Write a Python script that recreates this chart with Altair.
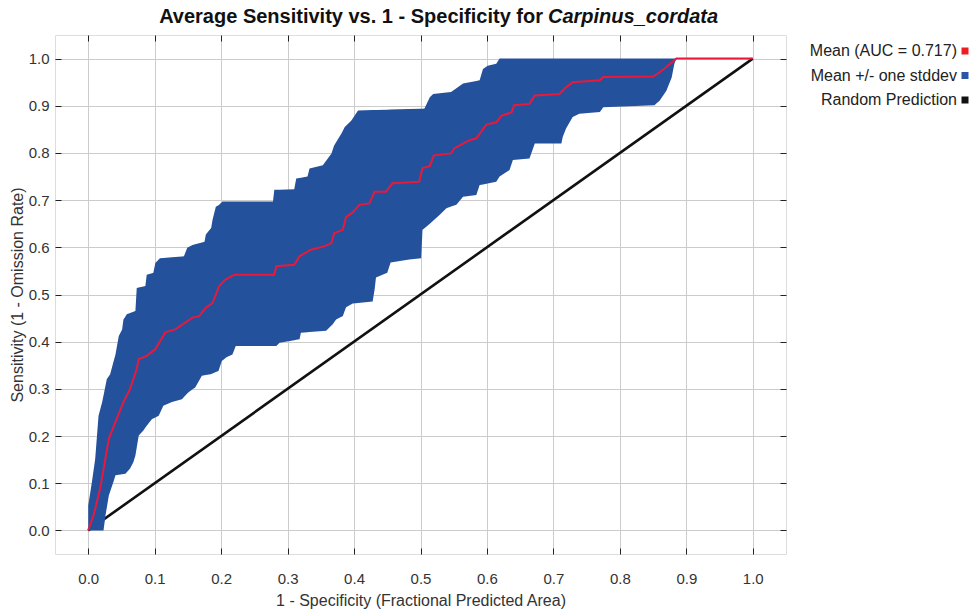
import altair as alt
import pandas as pd
import numpy as np

TITLE_MAIN = "Average Sensitivity vs. 1 - Specificity for"
TITLE_SPECIES = "Carpinus_cordata"
X_TITLE = "1 - Specificity (Fractional Predicted Area)"
Y_TITLE = "Sensitivity (1 - Omission Rate)"

series_names = ["Mean (AUC = 0.717)", "Mean +/- one stddev", "Random Prediction"]
series_colors = ["#ee1c25", "#2a54a4", "#111111"]

tick_values = [0.0, 0.1, 0.2, 0.3, 0.4, 0.5, 0.6, 0.7, 0.8, 0.9, 1.0]

mean_x = [0.0, 0.008, 0.018, 0.031, 0.041, 0.053, 0.063, 0.073, 0.076, 0.088,
          0.101, 0.116, 0.131, 0.157, 0.167, 0.177, 0.187, 0.197, 0.207, 0.220,
          0.280, 0.283, 0.310, 0.318, 0.335, 0.355, 0.366, 0.370, 0.383, 0.388,
          0.398, 0.408, 0.423, 0.431, 0.448, 0.458, 0.498, 0.503, 0.514, 0.520,
          0.546, 0.551, 0.564, 0.574, 0.584, 0.599, 0.614, 0.622, 0.637, 0.641,
          0.664, 0.672, 0.709, 0.719, 0.729, 0.770, 0.775, 0.850, 0.860, 0.870,
          0.885, 1.0]
mean_y = [0.0, 0.032, 0.089, 0.194, 0.230, 0.272, 0.300, 0.342, 0.363, 0.370,
          0.384, 0.420, 0.426, 0.451, 0.454, 0.472, 0.482, 0.518, 0.532, 0.542,
          0.542, 0.560, 0.563, 0.581, 0.595, 0.602, 0.609, 0.630, 0.637, 0.664,
          0.674, 0.690, 0.693, 0.718, 0.718, 0.736, 0.739, 0.768, 0.772, 0.795,
          0.799, 0.810, 0.820, 0.827, 0.831, 0.860, 0.865, 0.879, 0.886, 0.901,
          0.904, 0.922, 0.925, 0.939, 0.950, 0.954, 0.961, 0.962, 0.971, 0.982,
          1.0, 1.0]

upper_x = [0.0, 0.0056, 0.0105, 0.0155, 0.021, 0.028, 0.033, 0.041, 0.046, 0.051,
           0.053, 0.058, 0.071, 0.073, 0.086, 0.088, 0.098, 0.101, 0.108, 0.144,
           0.149, 0.157, 0.175, 0.177, 0.185, 0.187, 0.192, 0.197, 0.202, 0.278,
           0.280, 0.310, 0.313, 0.330, 0.333, 0.353, 0.366, 0.370, 0.381, 0.386,
           0.396, 0.406, 0.506, 0.514, 0.519, 0.546, 0.564, 0.589, 0.594, 0.601,
           0.614, 0.619, 0.885]
upper_y = [0.053, 0.103, 0.152, 0.243, 0.272, 0.321, 0.331, 0.373, 0.412, 0.426,
           0.447, 0.458, 0.465, 0.514, 0.518, 0.542, 0.546, 0.567, 0.577, 0.581,
           0.599, 0.605, 0.612, 0.627, 0.641, 0.658, 0.686, 0.690, 0.697, 0.697,
           0.722, 0.723, 0.746, 0.750, 0.767, 0.774, 0.799, 0.816, 0.841, 0.855,
           0.869, 0.890, 0.894, 0.918, 0.925, 0.929, 0.947, 0.954, 0.978, 0.985,
           0.989, 1.0, 1.0]

lower_x = [0.0, 0.023, 0.026, 0.031, 0.038, 0.041, 0.056, 0.063, 0.068, 0.071,
           0.076, 0.083, 0.088, 0.096, 0.106, 0.113, 0.126, 0.141, 0.151, 0.161,
           0.171, 0.184, 0.196, 0.201, 0.208, 0.217, 0.222, 0.283, 0.288, 0.318,
           0.320, 0.358, 0.368, 0.373, 0.383, 0.388, 0.398, 0.428, 0.431, 0.433,
           0.450, 0.455, 0.483, 0.501, 0.503, 0.514, 0.529, 0.539, 0.554, 0.564,
           0.584, 0.589, 0.614, 0.619, 0.634, 0.639, 0.664, 0.672, 0.712, 0.714,
           0.719, 0.729, 0.739, 0.770, 0.775, 0.852, 0.860, 0.870, 0.878, 0.882,
           0.885]
lower_y = [0.0, 0.0, 0.032, 0.074, 0.103, 0.117, 0.120, 0.131, 0.145, 0.159,
           0.201, 0.212, 0.222, 0.236, 0.243, 0.264, 0.272, 0.278, 0.293, 0.303,
           0.328, 0.331, 0.338, 0.359, 0.367, 0.373, 0.391, 0.391, 0.398, 0.405,
           0.419, 0.423, 0.437, 0.447, 0.454, 0.473, 0.481, 0.485, 0.511, 0.536,
           0.546, 0.568, 0.574, 0.577, 0.637, 0.650, 0.669, 0.683, 0.690, 0.707,
           0.711, 0.732, 0.739, 0.750, 0.764, 0.785, 0.788, 0.820, 0.820, 0.834,
           0.852, 0.876, 0.883, 0.887, 0.897, 0.901, 0.911, 0.932, 0.960, 0.989,
           1.0]

random_x = [0.0, 1.0]
random_y = [0.0, 1.0]

FONT = "Liberation Sans"
LINE_RED = "#e8193c"
BAND_BLUE = "#24519c"
TEXT_GRAY = "#333333"

# tables
mean_df = pd.DataFrame({"x": mean_x, "y": mean_y})
band_grid = np.union1d(upper_x, lower_x)
band_df = pd.DataFrame({
    "x": band_grid,
    "lo": np.interp(band_grid, lower_x, lower_y),
    "hi": np.interp(band_grid, upper_x, upper_y),
})
rand_df = pd.DataFrame({"x": random_x, "y": random_y})
legend_df = pd.DataFrame({"series": series_names})

xscale = alt.Scale(domain=[-0.05, 1.05], nice=False, zero=False)
yscale = alt.Scale(domain=[-0.05, 1.05], nice=False, zero=False)

grid_axis = dict(values=tick_values, grid=True, gridColor="#cccccc", gridWidth=1,
                 labels=False, ticks=False, domain=False, title=None)

# grid + random prediction line
random_layer = alt.Chart(rand_df).mark_line(color="#111111", strokeWidth=2.6).encode(
    x=alt.X("x:Q", scale=xscale, axis=alt.Axis(orient="bottom", **grid_axis)),
    y=alt.Y("y:Q", scale=yscale, axis=alt.Axis(orient="left", **grid_axis)),
)

band_layer = alt.Chart(band_df).mark_area(color=BAND_BLUE, opacity=1).encode(
    x=alt.X("x:Q", scale=xscale, axis=None),
    y=alt.Y("lo:Q", scale=yscale, axis=None),
    y2="hi:Q",
)

mean_layer = alt.Chart(mean_df).mark_line(color=LINE_RED, strokeWidth=2).encode(
    x=alt.X("x:Q", scale=xscale, axis=None),
    y=alt.Y("y:Q", scale=yscale, axis=None),
)

# labelled axes (bottom / left) with inward ticks
lab_common = dict(values=tick_values, format=".1f", grid=False, domain=False,
                  ticks=True, tickSize=6, tickColor="#222222", tickWidth=1, offset=-6,
                  labelFont=FONT, labelFontSize=15, labelColor=TEXT_GRAY,
                  titleFont=FONT, titleFontSize=16, titleFontWeight="normal",
                  titleColor=TEXT_GRAY)
axes_layer = alt.Chart(rand_df).mark_line(opacity=0).encode(
    x=alt.X("x:Q", scale=xscale,
            axis=alt.Axis(orient="bottom", title=X_TITLE, labelPadding=17,
                          titlePadding=6, **lab_common)),
    y=alt.Y("y:Q", scale=yscale,
            axis=alt.Axis(orient="left", title=Y_TITLE, labelPadding=6,
                          titlePadding=3, **lab_common)),
)

tick_only = dict(values=tick_values, grid=False, domain=False, labels=False,
                 ticks=True, tickSize=6, tickColor="#222222", tickWidth=1,
                 offset=-6, title=None)
mirror_layer = alt.Chart(rand_df).mark_line(opacity=0).encode(
    x=alt.X("x:Q", scale=xscale, axis=alt.Axis(orient="top", **tick_only)),
    y=alt.Y("y:Q", scale=yscale, axis=alt.Axis(orient="right", **tick_only)),
)

legend_layer = alt.Chart(legend_df).mark_point(
    shape="square", filled=True, size=49, clip=True
).encode(
    x=alt.value(-200), y=alt.value(-200),
    color=alt.Color("series:N",
                    scale=alt.Scale(domain=series_names, range=series_colors),
                    legend=alt.Legend(title=None, orient="none", legendX=902, legendY=8,
                                      direction="vertical", symbolType="square",
                                      symbolSize=49, symbolStrokeWidth=0,
                                      symbolOpacity=1,
                                      labelFont=FONT, labelFontSize=16,
                                      labelColor="#222222", labelAlign="right",
                                      labelOffset=alt.ExprRef(expr="-16"),
                                      rowPadding=8.5, padding=0)),
)

title_df = pd.DataFrame({"main": [TITLE_MAIN], "species": [TITLE_SPECIES]})
title_main = alt.Chart(title_df).mark_text(
    align="right", baseline="alphabetic", font=FONT, fontSize=20,
    fontWeight="bold", color="#111111"
).encode(x=alt.value(488), y=alt.value(-12), text="main:N")
title_species = alt.Chart(title_df).mark_text(
    align="left", baseline="alphabetic", font=FONT, fontSize=20,
    fontWeight="bold", fontStyle="italic", color="#111111"
).encode(x=alt.value(493), y=alt.value(-12), text="species:N")

chart = alt.layer(
    random_layer, band_layer, mean_layer, axes_layer, mirror_layer,
    legend_layer, title_main, title_species
).resolve_axis(
    x="independent", y="independent"
).properties(
    width=731, height=519,
    autosize=alt.AutoSizeParams(type="none"),
    padding={"left": 55, "top": 35, "right": 183, "bottom": 58},
).configure_view(
    stroke="#222222", strokeWidth=1.5
).configure(background="white")

chart.save("out.html", embed_options={"renderer": "svg", "actions": False})
